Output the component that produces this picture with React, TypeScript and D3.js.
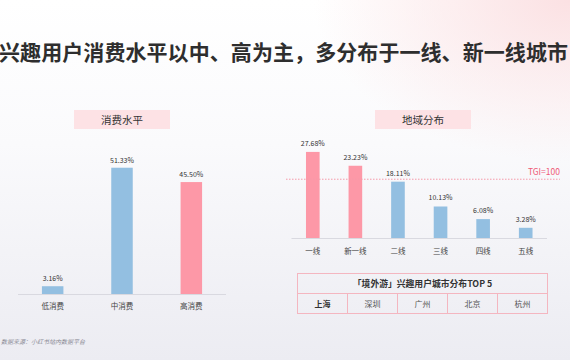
import React from 'react'
import * as d3 from 'd3'

const title = '兴趣用户消费水平以中、高为主，多分布于一线、新一线城市'
const source = '数据来源：小红书站内数据平台'

const spendCats = ['低消费', '中消费', '高消费']
const spendVals = [3.16, 51.33, 45.5]
const spendHigh = [false, false, true]

const regionCats = ['一线', '新一线', '二线', '三线', '四线', '五线']
const regionVals = [27.68, 23.23, 18.11, 10.13, 6.08, 3.28]
const regionHigh = [true, true, false, false, false, false]
const tgiValue = 18.9

const tableTitle = '「境外游」兴趣用户城市分布TOP 5'
const topCities = ['上海', '深圳', '广州', '北京', '杭州']

const PINK = '#fd98a7'
const BLUE = '#93bfe1'
const LINE_PINK = '#f4b6c0'
const FONT = '"Noto Sans CJK SC", "Noto Sans", sans-serif'

const App: React.FC = () => {
  const width = 570
  const height = 360

  // left chart
  const x1 = d3.scaleBand().domain(spendCats).range([18, 226]).paddingInner(0.69).paddingOuter(0.345)
  const y1 = d3.scaleLinear().domain([0, 60]).range([294, 146.4])

  // right chart
  const x2 = d3.scaleBand().domain(regionCats).range([291.5, 547]).paddingInner(0.68).paddingOuter(0.34)
  const y2 = d3.scaleLinear().domain([0, 30]).range([238, 144.7])

  const cellX = d3.scaleBand().domain(topCities).range([297.5, 547.5])

  return (
    <svg width={width} height={height} style={{ display: 'block', position: 'absolute', left: 0, top: 0 }} fontFamily={FONT}>
      <defs>
        <linearGradient id="bg" x1="0" y1="0" x2="0" y2="1">
          <stop offset="0" stopColor="#ffffff" />
          <stop offset="0.4" stopColor="#fafafc" />
          <stop offset="1" stopColor="#ececf2" />
        </linearGradient>
        <radialGradient id="pinkglow" cx="1" cy="0" r="0.45">
          <stop offset="0" stopColor="#fbe1e3" stopOpacity="1" />
          <stop offset="1" stopColor="#fbe1e3" stopOpacity="0" />
        </radialGradient>
      </defs>
      <rect width={width} height={height} fill="url(#bg)" />
      <rect width={width} height={height} fill="url(#pinkglow)" />

      <text x={-1} y={60} fontSize={21} fontWeight="bold" fill="#2e2e2e" textLength={569} lengthAdjust="spacing">
        {title}
      </text>

      {/* left panel */}
      <rect x={74} y={110} width={96} height={19} fill="#fde2e5" />
      <text x={122} y={123.5} fontSize={10.5} textAnchor="middle" fill="#333">消费水平</text>
      <line x1={18} x2={226} y1={294.5} y2={294.5} stroke="#d9d9e0" strokeWidth={1} />
      {spendCats.map((c, i) => (
        <g key={c}>
          <rect
            x={x1(c)!}
            y={y1(spendVals[i])}
            width={x1.bandwidth()}
            height={y1(0) - y1(spendVals[i])}
            fill={spendHigh[i] ? PINK : BLUE}
          />
          <text x={x1(c)! + x1.bandwidth() / 2} y={y1(spendVals[i]) - 5} fontSize={7} textAnchor="middle" fill="#333">
            {spendVals[i].toFixed(2)}%
          </text>
          <text x={x1(c)! + x1.bandwidth() / 2} y={308.5} fontSize={7.5} textAnchor="middle" fill="#444">
            {c}
          </text>
        </g>
      ))}

      {/* right panel */}
      <rect x={375} y={110} width={96} height={19} fill="#fde2e5" />
      <text x={423} y={123.5} fontSize={10.5} textAnchor="middle" fill="#333">地域分布</text>
      <line x1={291.5} x2={547} y1={238.5} y2={238.5} stroke="#d9d9e0" strokeWidth={1} />
      {regionCats.map((c, i) => (
        <g key={c}>
          <rect
            x={x2(c)!}
            y={y2(regionVals[i])}
            width={x2.bandwidth()}
            height={y2(0) - y2(regionVals[i])}
            fill={regionHigh[i] ? PINK : BLUE}
          />
          <text x={x2(c)! + x2.bandwidth() / 2} y={y2(regionVals[i]) - 6} fontSize={7} textAnchor="middle" fill="#333">
            {regionVals[i].toFixed(2)}%
          </text>
          <text x={x2(c)! + x2.bandwidth() / 2} y={253.5} fontSize={7.5} textAnchor="middle" fill="#444">
            {c}
          </text>
        </g>
      ))}
      <line
        x1={286}
        x2={560}
        y1={y2(tgiValue)}
        y2={y2(tgiValue)}
        stroke="#f59aaa"
        strokeWidth={1}
        strokeDasharray="1.5 1.5"
      />
      <text x={560} y={y2(tgiValue) - 4} fontSize={8.5} textAnchor="end" fill="#ef5b77">TGI=100</text>

      {/* top 5 table */}
      <rect x={297.5} y={273.5} width={250} height={40} fill="none" stroke={LINE_PINK} strokeWidth={1} />
      <line x1={297.5} x2={547.5} y1={293.5} y2={293.5} stroke={LINE_PINK} strokeWidth={1} />
      <text x={422.5} y={286.8} fontSize={8.8} fontWeight="bold" textAnchor="middle" fill="#333">
        {tableTitle}
      </text>
      {topCities.map((c, i) => (
        <g key={c}>
          {i > 0 && (
            <line x1={cellX(c)!} x2={cellX(c)!} y1={293.5} y2={313.5} stroke={LINE_PINK} strokeWidth={1} />
          )}
          <text
            x={cellX(c)! + cellX.bandwidth() / 2}
            y={306.5}
            fontSize={8}
            textAnchor="middle"
            fill={i === 0 ? '#333' : '#555'}
            fontWeight={i === 0 ? 'bold' : 'normal'}
          >
            {c}
          </text>
        </g>
      ))}

      <text x={1} y={344} fontSize={6} fill="#8a8a95" fontStyle="italic">{source}</text>
    </svg>
  )
}

export default App
